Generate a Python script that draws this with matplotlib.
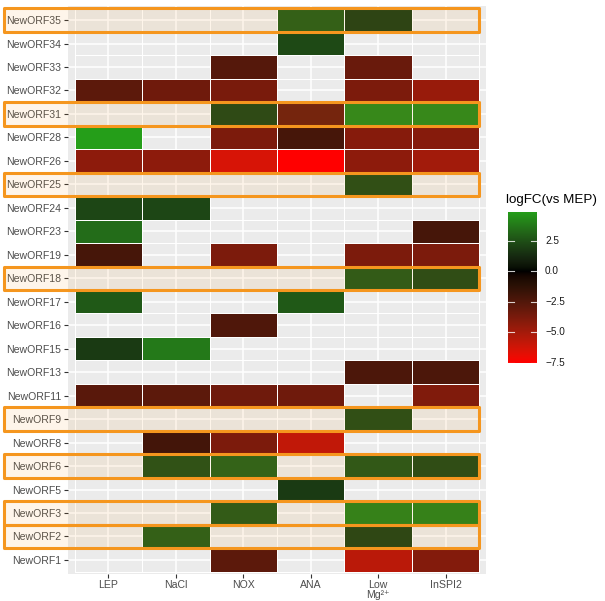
import matplotlib
matplotlib.use('Agg')
import matplotlib.pyplot as plt
import matplotlib.patches as mpatches
from matplotlib.colors import ListedColormap, Normalize
import numpy as np

plt.rcParams['font.family'] = ['Liberation Sans', 'DejaVu Sans']

# ── data (rows bottom -> top) ────────────────────────────────────────────────
genes = ["NewORF1", "NewORF2", "NewORF3", "NewORF5", "NewORF6", "NewORF8",
         "NewORF9", "NewORF11", "NewORF13", "NewORF15", "NewORF16", "NewORF17",
         "NewORF18", "NewORF19", "NewORF23", "NewORF24", "NewORF25", "NewORF26",
         "NewORF28", "NewORF31", "NewORF32", "NewORF33", "NewORF34", "NewORF35"]
conditions = ["LEP", "NaCl", "NOX", "ANA", "Low\nMg\u00b2\u207a", "InSPI2"]

n = np.nan
lep    = [n, n, n, n, n, n, n, -2.7, n, 1.8, n, 2.8, n, -2.1, 3.4, 2.2, n, -4.3, 4.85, n, -2.8, n, n, n]
nacl   = [n, 2.9, n, n, 2.4, -2.0, n, -2.8, n, 3.8, n, n, n, n, n, 2.2, n, -4.3, n, n, -3.4, n, n, n]
nox    = [-2.8, n, 2.7, n, 3.0, -3.8, n, -3.4, n, n, -2.4, n, n, -3.8, n, n, n, -6.4, -3.8, 2.1, -3.7, -2.6, n, n]
ana    = [n, n, n, 1.8, n, -5.8, n, -3.4, n, n, n, 2.8, n, n, n, n, n, -7.5, -2.1, -3.2, n, n, 2.3, 2.9]
low_mg = [-5.6, 2.0, 4.0, n, 2.6, n, 2.3, n, -2.3, n, n, n, 2.7, -3.8, n, n, 2.3, -4.3, -4.1, 4.2, -3.8, -3.2, n, 1.9]
inspi2 = [-4.0, n, 4.0, n, 2.2, n, n, -3.9, -2.3, n, n, n, 2.2, -3.8, -2.1, n, n, -4.9, -4.1, 4.2, -4.6, n, n, n]

highlighted = ["NewORF35", "NewORF31", "NewORF25", "NewORF18", "NewORF9",
               "NewORF6", "NewORF3", "NewORF2"]

cb_ticks = [2.5, 0.0, -2.5, -5.0, -7.5]

ORANGE = '#F5961E'
PANEL = '#EBEBEB'
TXT = '#4D4D4D'


# ── gradient2 (red / black / green) interpolated in Lab like ggplot ──────────
def srgb_to_lab(rgb):
    c = np.asarray(rgb, float)
    lin = np.where(c <= 0.04045, c / 12.92, ((c + 0.055) / 1.055) ** 2.4)
    M = np.array([[0.4124, 0.3576, 0.1805],
                  [0.2126, 0.7152, 0.0722],
                  [0.0193, 0.1192, 0.9505]])
    xyz = M @ lin / np.array([0.95047, 1.0, 1.08883])
    d = 6 / 29
    f = np.where(xyz > d ** 3, np.cbrt(xyz), xyz / (3 * d * d) + 4 / 29)
    return np.array([116 * f[1] - 16, 500 * (f[0] - f[1]), 200 * (f[1] - f[2])])


def lab_to_srgb(lab):
    L, a, b = lab
    fy = (L + 16) / 116
    fx = fy + a / 500
    fz = fy - b / 200
    d = 6 / 29
    f = np.array([fx, fy, fz])
    xyz = np.where(f > d, f ** 3, 3 * d * d * (f - 4 / 29)) * np.array([0.95047, 1.0, 1.08883])
    Minv = np.array([[3.2406, -1.5372, -0.4986],
                     [-0.9689, 1.8758, 0.0415],
                     [0.0557, -0.2040, 1.0570]])
    lin = np.clip(Minv @ xyz, 0, 1)
    c = np.where(lin <= 0.0031308, 12.92 * lin, 1.055 * lin ** (1 / 2.4) - 0.055)
    return np.clip(c, 0, 1)


low_lab = srgb_to_lab([1, 0, 0])
mid_lab = srgb_to_lab([0, 0, 0])
high_lab = srgb_to_lab([0, 1, 0])
cols = []
for t in np.linspace(0, 1, 512):
    if t < 0.5:
        s = t / 0.5
        lab = low_lab + (mid_lab - low_lab) * s
    else:
        s = (t - 0.5) / 0.5
        lab = mid_lab + (high_lab - mid_lab) * s
    cols.append(lab_to_srgb(lab))
cmap = ListedColormap(cols)
lim = 7.5
norm = Normalize(-lim, lim)

# ── figure ───────────────────────────────────────────────────────────────────
fig = plt.figure(figsize=(6.05, 6.01), dpi=100)
fig.patch.set_facecolor('white')
ax = fig.add_axes([68 / 605, 27 / 601, 418 / 605, 568 / 601])
ax.set_facecolor(PANEL)

Z = np.ma.masked_invalid(np.array([lep, nacl, nox, ana, low_mg, inspi2]).T)
nr, nc = Z.shape
xe = np.arange(nc + 1) + 0.5
ye = np.arange(nr + 1) + 0.5

# grid lines (ggplot style)
for x in range(1, nc + 1):
    ax.axvline(x, color='white', lw=1.1, zorder=1)
for y in range(1, nr + 1):
    ax.axhline(y, color='white', lw=1.1, zorder=1)

ax.pcolormesh(xe, ye, Z, cmap=cmap, norm=norm, edgecolors='white',
              linewidth=0.5, zorder=3)

ax.set_xlim(0.4, nc + 0.6)
ax.set_ylim(0.4, nr + 0.6)
for s in ax.spines.values():
    s.set_visible(False)

ax.set_xticks(np.arange(1, nc + 1))
ax.set_xticklabels(conditions, fontsize=7.6, color=TXT, linespacing=0.95, va='top')
ax.set_yticks(np.arange(1, nr + 1))
ax.set_yticklabels(genes, fontsize=7.6, color=TXT)
ax.tick_params(axis='both', length=3, width=0.8, color='#333333', pad=2)
ax.tick_params(axis='x', pad=1.5)

# highlight boxes around selected rows
for g in highlighted:
    r = genes.index(g) + 1
    ax.add_patch(mpatches.Rectangle((-0.555, r - 0.5), nc + 0.5 + 0.555, 1.0,
                                    facecolor=ORANGE, alpha=0.09, edgecolor='none',
                                    clip_on=False, zorder=4))
    ax.add_patch(mpatches.Rectangle((-0.555, r - 0.5), nc + 0.5 + 0.555, 1.0,
                                    facecolor='none', edgecolor=ORANGE, lw=2.2,
                                    joinstyle='round', clip_on=False, zorder=5))

# ── colourbar ────────────────────────────────────────────────────────────────
vmax = np.nanmax(Z)
cax = fig.add_axes([508 / 605, (601 - 363) / 601, 29 / 605, 151 / 601])
grad = np.linspace(-lim, vmax, 300).reshape(-1, 1)
cax.imshow(grad, cmap=cmap, norm=norm, aspect='auto', origin='lower',
           extent=(0, 1, -lim, vmax))
cax.set_xlim(0, 1)
cax.set_ylim(-lim, vmax)
cax.axis('off')
for tv in cb_ticks:
    cax.plot([0, 0.2], [tv, tv], color='white', lw=0.8, alpha=0.8)
    cax.plot([0.8, 1], [tv, tv], color='white', lw=0.8, alpha=0.8)
    cax.text(1.28, tv, f"{tv:.1f}".replace('-', '\u2212'), fontsize=7.2,
             color='#1A1A1A', ha='left', va='center', transform=cax.transData)
fig.text(506 / 605, 1 - 200 / 601, "logFC(vs MEP)", fontsize=9.6,
         color='black', ha='left', va='center')

fig.savefig('out.png', dpi=100, facecolor='white')
